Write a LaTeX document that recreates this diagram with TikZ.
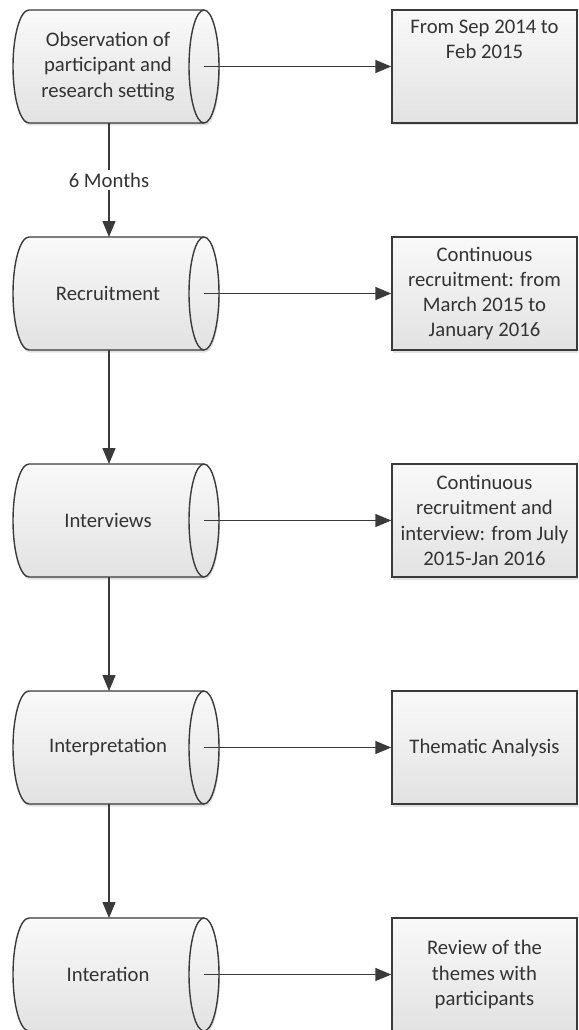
\documentclass[tikz,border=0pt]{standalone}
\usepackage{fontspec}
\setmainfont{Carlito}
\usetikzlibrary{arrows.meta,shadows}

\definecolor{edge}{HTML}{3A3A3A}
\definecolor{ink}{HTML}{333333}
\definecolor{filltop}{HTML}{F9F9F9}
\definecolor{fillbot}{HTML}{E2E2E2}

\tikzset{
  outline/.style={draw=edge, line width=1.4pt},
  softshade/.style={top color=filltop, bottom color=fillbot},
  softshadow/.style={drop shadow={shadow xshift=1pt, shadow yshift=-2.5pt, fill=black!35, opacity=.35}},
  steptext/.style={text=ink, align=center, inner sep=0pt,
    font=\fontsize{20.7pt}{25.2pt}\selectfont},
  datebox/.style={outline, softshade, softshadow, rectangle,
    minimum width=185pt, minimum height=113pt, inner sep=0pt},
  flowarrow/.style={draw=edge, line width=1.4pt,
    -{Triangle[length=16pt,width=13pt]}},
}

% Horizontal cylinder: #1 name, #2 top edge, #3 caption
\newcommand\drawcyl[3]{%
  \pgfmathsetmacro\ctop{#2}%
  \pgfmathsetmacro\cbot{#2+113}%
  \pgfmathsetmacro\cmid{#2+56.5}%
  \path[outline, softshade, softshadow]
    (29,\ctop) -- (204,\ctop)
    arc[start angle=90, end angle=-90, x radius=15pt, y radius=56.5pt]
    -- (29,\cbot)
    arc[start angle=270, end angle=90, x radius=16pt, y radius=56.5pt]
    -- cycle;
  \draw[outline] (204,\ctop)
    arc[start angle=90, end angle=270, x radius=15pt, y radius=56.5pt];
  \node[steptext] (#1) at (108,\cmid) {#3};
  \coordinate (#1-out) at (204,\cmid);
  \coordinate (#1-top) at (109,\ctop);
  \coordinate (#1-bot) at (109,\cbot);
}

\begin{document}
\begin{tikzpicture}[x=1pt,y=-1pt]
  \clip (0,0) rectangle (578,1030);
  \useasboundingbox (0,0) rectangle (578,1030);

  % process steps
  \drawcyl{obs}{10}{Observation of\\participant and\\research setting}
  \drawcyl{rec}{237}{Recruitment}
  \drawcyl{itv}{464}{Interviews}
  \drawcyl{ipr}{691}{Interpretation}
  \drawcyl{itr}{918}{Interation}

  % time frames and outcomes
  \node[datebox] (b1) at (484.5,66.5) {};
  \node[steptext, anchor=north] (b1t) at (484.5,20) {From Sep 2014 to\\Feb 2015};
  \node[datebox, steptext] (b2) at (484.5,293.5)
    {Continuous\\recruitment: from\\March 2015 to\\January 2016};
  \node[datebox, steptext] (b3) at (484.5,520.5)
    {Continuous\\recruitment and\\interview: from July\\2015-Jan 2016};
  \node[datebox, steptext] (b4) at (484.5,747.5) {Thematic Analysis};
  \node[datebox, steptext] (b5) at (484.5,974.5)
    {Review of the\\themes with\\participants};

  % horizontal links
  \draw[flowarrow] (obs-out) -- (b1.west);
  \draw[flowarrow] (rec-out) -- (b2.west);
  \draw[flowarrow] (itv-out) -- (b3.west);
  \draw[flowarrow] (ipr-out) -- (b4.west);
  \draw[flowarrow] (itr-out) -- (b5.west);

  % vertical sequence
  \draw[flowarrow] (obs-bot) -- node[steptext, fill=white, inner sep=3pt] (gap) {6 Months} (rec-top);
  \draw[flowarrow] (rec-bot) -- (itv-top);
  \draw[flowarrow] (itv-bot) -- (ipr-top);
  \draw[flowarrow] (ipr-bot) -- (itr-top);
\end{tikzpicture}
\end{document}
